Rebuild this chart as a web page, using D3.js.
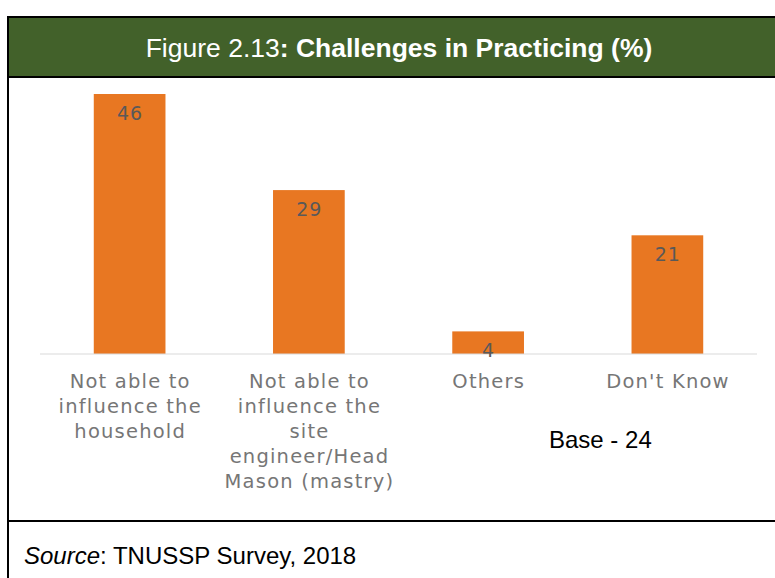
<!DOCTYPE html>
<html lang="en">
<head>
  <meta charset="UTF-8">
  <script src="https://d3js.org/d3.v7.min.js"></script>
  <style>
    body {
      margin: 0;
      padding: 0;
      background-color: #fff;
    }
    svg {
      display: block;
    }
  </style>
</head>
<body>
  <div id="chart"></div>
  <script>
    const categories = [
      ["Not able to", "influence the", "household"],
      ["Not able to", "influence the", "site", "engineer/Head", "Mason (mastry)"],
      ["Others"],
      ["Don't Know"]
    ];
    const values = [46, 29, 4, 21];
    const titleRegular = "Figure 2.13";
    const titleBold = ": Challenges in Practicing (%)";
    const baseNote = "Base - 24";
    const sourceLabel = "Source";
    const sourceText = ": TNUSSP Survey, 2018";

    const width = 775, height = 578;
    const green = "#42612a", orange = "#e87722";

    const svg = d3.select("#chart")
      .append("svg")
      .attr("width", width)
      .attr("height", height);

    // frame: header band, body, footer
    svg.append("rect")
      .attr("x", 8).attr("y", 17)
      .attr("width", 800).attr("height", 60)
      .attr("fill", green);

    svg.append("g")
      .attr("stroke", "#000")
      .attr("stroke-width", 2)
      .selectAll("line")
      .data([[8, 17, 800, 17], [8, 77, 800, 77], [8, 521, 800, 521], [8, 16, 8, 600]])
      .join("line")
      .attr("x1", d => d[0]).attr("y1", d => d[1])
      .attr("x2", d => d[2]).attr("y2", d => d[3]);

    const title = svg.append("text")
      .attr("x", 399)
      .attr("y", 57)
      .attr("text-anchor", "middle")
      .attr("fill", "#fff")
      .style("font-family", "'Liberation Sans', Arial, sans-serif")
      .style("font-size", "26.5px");
    title.append("tspan").text(titleRegular);
    title.append("tspan").attr("font-weight", "bold").text(titleBold);

    // bars
    const x = d3.scaleBand()
      .domain(d3.range(values.length))
      .range([40, 757])
      .paddingInner(0.6)
      .paddingOuter(0.3);

    const y = d3.scaleLinear()
      .domain([0, 46])
      .range([354, 94]);

    svg.append("g")
      .selectAll("rect")
      .data(values)
      .join("rect")
      .attr("x", (d, i) => x(i))
      .attr("y", d => y(d))
      .attr("width", x.bandwidth())
      .attr("height", d => y(0) - y(d))
      .attr("fill", orange);

    svg.append("line")
      .attr("x1", 40).attr("x2", 757)
      .attr("y1", y(0)).attr("y2", y(0))
      .attr("stroke", "#d9d9d9")
      .attr("stroke-width", 1.2);

    const labelFont = "'DejaVu Sans', Verdana, sans-serif";

    svg.append("g")
      .selectAll("text")
      .data(values)
      .join("text")
      .attr("x", (d, i) => x(i) + x.bandwidth() / 2 + 0.5)
      .attr("y", d => y(d) + 26)
      .attr("text-anchor", "middle")
      .attr("fill", "#595959")
      .style("font-family", labelFont)
      .style("font-size", "19px")
      .style("letter-spacing", "1px")
      .text(d => d);

    const cats = svg.append("g")
      .selectAll("text")
      .data(categories)
      .join("text")
      .attr("text-anchor", "middle")
      .attr("fill", "#767676")
      .style("font-family", labelFont)
      .style("font-size", "19.5px")
      .style("letter-spacing", "1.2px");

    cats.selectAll("tspan")
      .data((d, i) => d.map(line => ({ line, i })))
      .join("tspan")
      .attr("x", d => x(d.i) + x.bandwidth() / 2 + 0.6)
      .attr("y", (d, j) => 388 + j * 25)
      .text(d => d.line);

    svg.append("text")
      .attr("x", 549)
      .attr("y", 448)
      .attr("fill", "#000")
      .style("font-family", "'Liberation Sans', Arial, sans-serif")
      .style("font-size", "24px")
      .text(baseNote);

    const src = svg.append("text")
      .attr("x", 24)
      .attr("y", 564)
      .attr("fill", "#000")
      .style("font-family", "'Liberation Sans', Arial, sans-serif")
      .style("font-size", "24px");
    src.append("tspan").attr("font-style", "italic").text(sourceLabel);
    src.append("tspan").text(sourceText);
  </script>
</body>
</html>
